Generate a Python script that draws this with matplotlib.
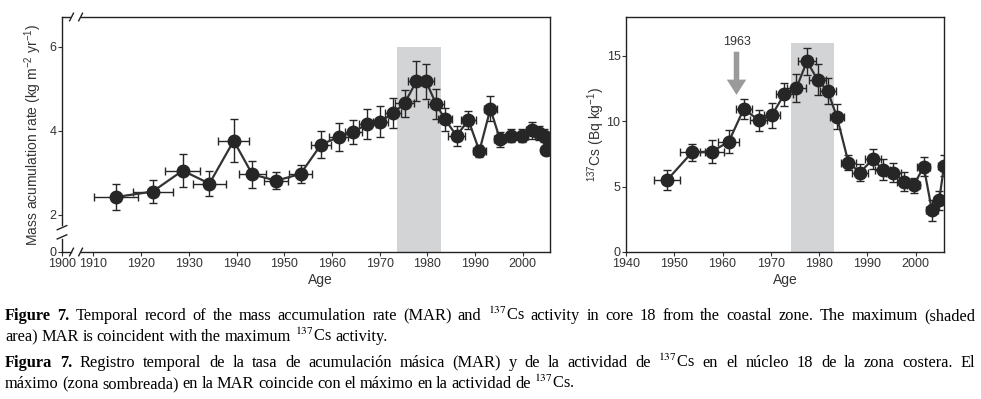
import matplotlib
matplotlib.use('Agg')
import matplotlib.pyplot as plt
import numpy as np

plt.rcParams['font.family'] = ['Liberation Sans', 'DejaVu Sans']
plt.rcParams['mathtext.fontset'] = 'custom'
plt.rcParams['mathtext.rm'] = 'Liberation Sans'
plt.rcParams['mathtext.it'] = 'Liberation Sans:italic'
plt.rcParams['mathtext.bf'] = 'Liberation Sans:bold'

# MAR core 18
mar_year = [1914.7, 1922.4, 1928.7, 1934.3, 1939.4, 1943.3, 1948.3, 1953.4, 1957.7, 1961.4,
            1964.5, 1967.4, 1970.1, 1972.8, 1975.2, 1977.7, 1979.7, 1981.8, 1983.7, 1986.1,
            1988.6, 1990.9, 1993.2, 1995.2, 1997.6, 1999.8, 2001.9, 2003.3, 2004.4, 2005.0, 2004.9]
mar_val = [2.42, 2.55, 3.05, 2.74, 3.76, 2.96, 2.81, 2.97, 3.67, 3.85,
           3.97, 4.16, 4.21, 4.42, 4.65, 5.18, 5.18, 4.64, 4.27, 3.88,
           4.25, 3.52, 4.52, 3.80, 3.88, 3.88, 4.01, 3.95, 3.88, 3.83, 3.53]
mar_xerr = [4.6, 4.2, 3.7, 3.5, 3.2, 2.8, 2.5, 2.5, 2.1, 2.0,
            1.75, 1.8, 1.6, 1.6, 2.0, 1.75, 1.7, 1.7, 1.5, 1.7,
            1.6, 1.4, 1.4, 1.3, 1.2, 1.2, 1.2, 1.1, 1.0, 1.0, 1.0]
mar_yerr = [0.31, 0.28, 0.40, 0.29, 0.51, 0.33, 0.20, 0.21, 0.33, 0.33,
            0.29, 0.35, 0.37, 0.35, 0.33, 0.47, 0.42, 0.35, 0.27, 0.24,
            0.22, 0.15, 0.30, 0.18, 0.16, 0.16, 0.20, 0.17, 0.15, 0.15, 0.12]

# 137Cs core 18
cs_year = [1948.5, 1953.7, 1957.8, 1961.3, 1964.4, 1967.5, 1970.2, 1972.8, 1975.3, 1977.5,
           1979.7, 1981.8, 1983.7, 1986.1, 1988.5, 1991.2, 1993.2, 1995.4, 1997.6, 1999.6,
           2001.7, 2003.4, 2004.9, 2005.9]
cs_val = [5.49, 7.62, 7.67, 8.43, 10.92, 10.08, 10.44, 12.04, 12.52, 14.56,
          13.16, 12.29, 10.34, 6.83, 6.07, 7.11, 6.27, 6.07, 5.38, 5.08,
          6.52, 3.17, 3.94, 6.58]
cs_xerr = [2.65, 2.6, 2.5, 2.2, 1.7, 1.7, 1.7, 1.8, 2.0, 1.8,
           1.7, 1.7, 1.5, 1.5, 1.6, 1.6, 1.5, 1.5, 1.5, 1.4,
           1.3, 1.2, 1.0, 1.2]
cs_yerr = [0.76, 0.65, 0.87, 0.9, 0.76, 0.8, 0.94, 0.89, 1.07, 1.05,
           1.2, 1.0, 0.98, 0.56, 0.64, 0.76, 0.8, 0.76, 0.75, 0.6,
           0.74, 0.8, 0.7, 0.8]

mar_shade = (1973.7, 1982.9, 6.0)
cs_shade = (1974.1, 1983.1, 16.0)
arrow_year = 1962.9
arrow_from, arrow_to, arrow_label_y = 15.3, 12.0, 16.05

mar_xlim = (1903.4, 2005.7)
mar_ylim = (1.11, 6.71)
mar_xticks = [1910, 1920, 1930, 1940, 1950, 1960, 1970, 1980, 1990, 2000]
mar_yticks = [2, 4, 6]
cs_xlim = (1940, 2005.9)
cs_ylim = (0, 17.95)
cs_xticks = [1940, 1950, 1960, 1970, 1980, 1990, 2000]
cs_yticks = [0, 5, 10, 15]

dark = '#262626'
axcol = '#222222'
fig = plt.figure(figsize=(9.81, 3.99), dpi=100)
ax1 = fig.add_axes([62/981, 1-252/399, 488/981, 235/399])
ax2 = fig.add_axes([626/981, 1-252/399, 318/981, 235/399])

def draw(ax, x, y, xe, ye, shade):
    ax.fill_between([shade[0], shade[1]], 0, shade[2], color='#d3d4d6', lw=0, zorder=0)
    ax.errorbar(x, y, xerr=xe, yerr=ye, fmt='none', ecolor=dark, elinewidth=1,
                capsize=3, capthick=1, zorder=2)
    ax.plot(x, y, color='#333333', lw=1.6, zorder=3)
    ax.plot(x, y, 'o', color=dark, ms=9, zorder=4)
    for s in ax.spines.values():
        s.set_linewidth(1)
        s.set_color(axcol)
    ax.tick_params(direction='out', length=3, width=0.8, labelsize=9, pad=1,
                   colors='#333333')
    ax.set_xlabel('Age', fontsize=10, color='#333333')

draw(ax1, mar_year, mar_val, mar_xerr, mar_yerr, mar_shade)
ax1.set_xlim(*mar_xlim)
ax1.set_ylim(*mar_ylim)
ax1.set_xticks([mar_xlim[0]] + mar_xticks, ['1900'] + [str(t) for t in mar_xticks])
ax1.set_yticks([mar_ylim[0]] + mar_yticks, ['0'] + [str(t) for t in mar_yticks])
ax1.set_ylabel('Mass acumulation rate (kg m$^{-2}$ yr$^{-1}$)', fontsize=10, color='#333333')
ax1.xaxis.set_label_coords(0.53, -0.09)
ax1.yaxis.set_label_coords(-0.037, 0.5)

# axis break marks (broken x and y axes on the MAR panel)
x0, x1 = mar_xlim
y0, y1 = mar_ylim
ax1.spines['top'].set_visible(False)
ax1.spines['bottom'].set_visible(False)
ax1.spines['left'].set_visible(False)
brk = dict(color=axcol, lw=1, clip_on=False)
ax1.plot([x0, x0 + 1.6], [y1, y1], **brk)
ax1.plot([x0 + 4.0, x1], [y1, y1], **brk)
ax1.plot([x0, x0 + 1.8], [y0, y0], **brk)
ax1.plot([x0 + 4.0, x1], [y0, y0], **brk)
ax1.plot([x0, x0], [y0, y0 + 0.3], **brk)
ax1.plot([x0, x0], [y0 + 0.64, y1], **brk)
for dx in (2.0, 3.9):
    for yy in (y0, y1):
        ax1.plot([dx + x0 - 0.4, dx + x0 + 0.4], [yy - 0.09, yy + 0.09], **brk)
for dy in (0.36, 0.58):
    ax1.plot([x0 - 1.0, x0 + 1.0], [y0 + dy - 0.05, y0 + dy + 0.05], **brk)

draw(ax2, cs_year, cs_val, cs_xerr, cs_yerr, cs_shade)
ax2.set_xlim(*cs_xlim)
ax2.set_ylim(*cs_ylim)
ax2.set_xticks(cs_xticks)
ax2.set_yticks(cs_yticks)
ax2.set_ylabel('$^{137}$Cs (Bq kg$^{-1}$)', fontsize=10, color='#333333')
ax2.xaxis.set_label_coords(0.5, -0.09)
ax2.yaxis.set_label_coords(-0.06, 0.5)
ax2.annotate('', xy=(arrow_year, arrow_to), xytext=(arrow_year, arrow_from),
             arrowprops=dict(facecolor='#9a9a9a', edgecolor='none', width=4,
                             headwidth=14, headlength=11, shrink=0))
ax2.text(arrow_year, arrow_label_y, '1963', ha='center', va='center', fontsize=9, color='#333333')

# caption, lines 1 and 3 justified like the source
cap = dict(family=['Liberation Serif', 'DejaVu Serif'], fontsize=11.8, color='black',
           math_fontfamily='stix', va='baseline', ha='left')
caption = [
    (320, 'Figure 7.', r"Temporal record of the mass accumulation rate (MAR) and $^{137}$Cs activity in core 18 from the coastal zone. The maximum (shaded", True),
    (341, '', r"area) MAR is coincident with the maximum $^{137}$Cs activity.", False),
    (367, 'Figura 7.', r"Registro temporal de la tasa de acumulación másica (MAR) y de la actividad de $^{137}$Cs en el núcleo 18 de la zona costera. El", True),
    (388, '', r"máximo (zona sombreada) en la MAR coincide con el máximo en la actividad de $^{137}$Cs.", False),
]
renderer = fig.canvas.get_renderer()
x_left, x_right = 5, 975
for ypix, bold, rest, justify in caption:
    words = [(w, 'bold') for w in bold.split()] + [(w, 'normal') for w in rest.split()]
    texts = [fig.text(0, 1 - ypix/399, w, fontweight=fw, **cap) for w, fw in words]
    widths = [t.get_window_extent(renderer).width for t in texts]
    gap = (x_right - x_left - sum(widths)) / (len(words) - 1) if justify else 3.6
    x = x_left
    for t, w in zip(texts, widths):
        t.set_x(x / 981)
        x += w + gap

fig.savefig('out.png', dpi=100)
